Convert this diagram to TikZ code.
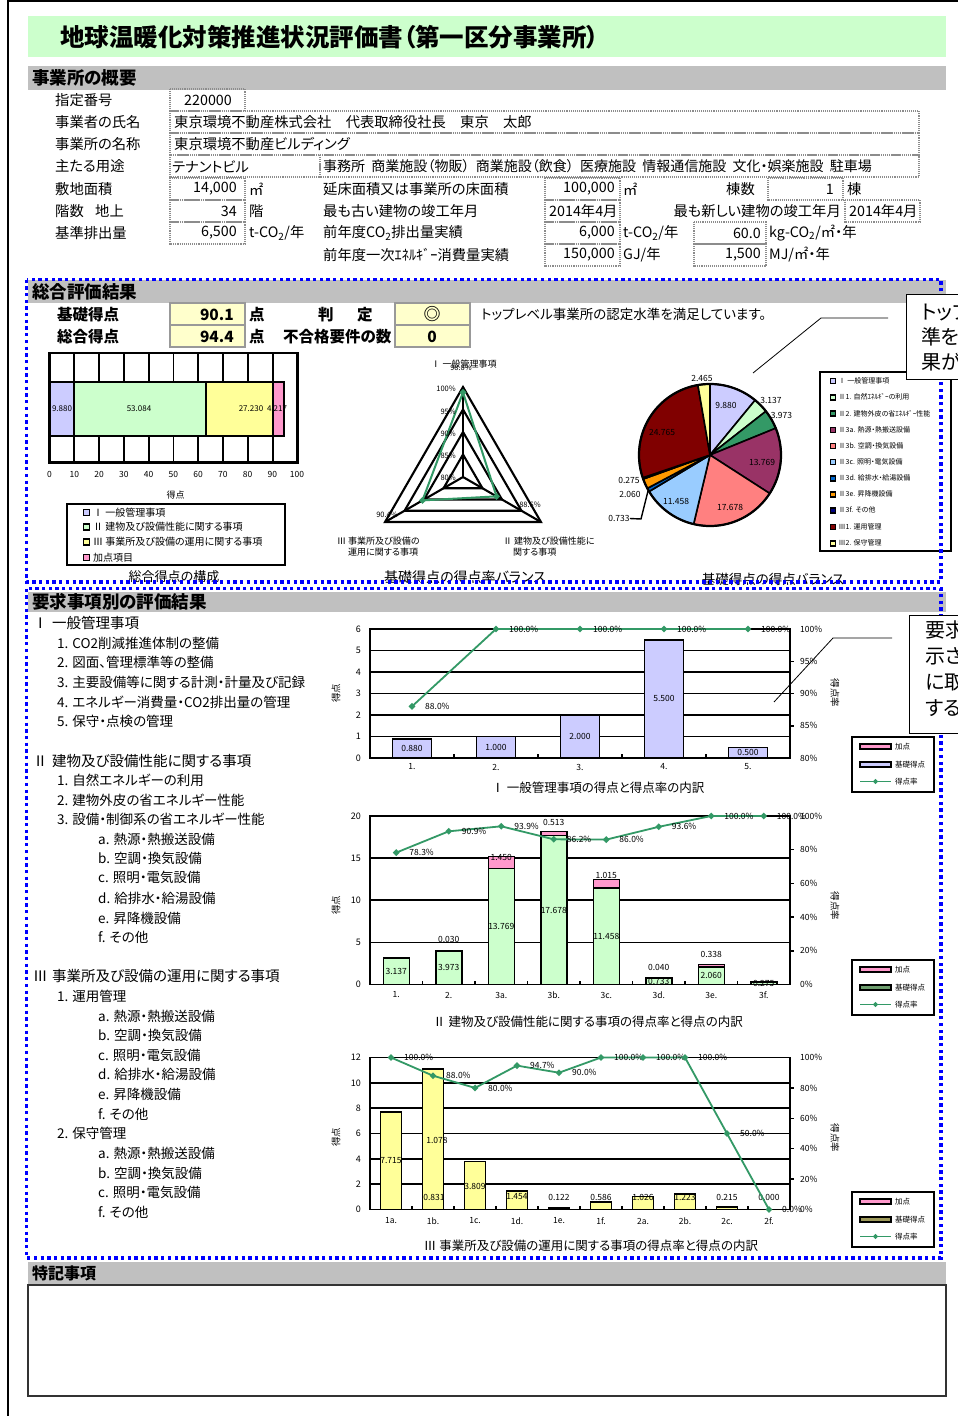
\documentclass[tikz,border=0pt]{standalone}
\usepackage{fontspec}
\setmainfont{Noto Sans CJK JP}[RawFeature=+palt]
\usetikzlibrary{shapes.geometric}
\newcommand{\fsz}[1]{\fontsize{#1}{#1}\selectfont}
\newcommand{\hsp}{\hspace{0.45em}}
\definecolor{lav}{HTML}{CCCCFF}
\definecolor{lgreen}{HTML}{CCFFCC}
\definecolor{lyel}{HTML}{FFFF99}
\definecolor{lpink}{HTML}{FF99CC}
\definecolor{sgreen}{HTML}{339966}
\definecolor{plum}{HTML}{993366}
\definecolor{salmon}{HTML}{FF8080}
\definecolor{lblue}{HTML}{99CCFF}
\definecolor{dblue}{HTML}{0066CC}
\definecolor{orng}{HTML}{FF9900}
\definecolor{navytwo}{HTML}{000080}
\definecolor{mar}{HTML}{800000}
\definecolor{grayband}{HTML}{C0C0C0}
\definecolor{scorey}{HTML}{FFFFCC}
\definecolor{dotblue}{HTML}{0000FF}
\definecolor{lgbase}{HTML}{6E9E6E}
\definecolor{ylbase}{HTML}{9E9A5A}
\tikzset{
 lbl/.style={inner sep=0pt, anchor=west, font=\fsz{14.3}},
 lblr/.style={inner sep=0pt, anchor=east, font=\fsz{14.3}},
 lblc/.style={inner sep=0pt, font=\fsz{14.3}},
 hdr/.style={inner sep=0pt, anchor=west, font=\fsz{17.5}\bfseries},
 cell/.style={draw=black!45, line width=1.1pt, densely dotted},
 scorebox/.style={fill=scorey, draw=black!40, line width=1.5pt},
 sc/.style={inner sep=0pt, font=\fsz{15.5}\bfseries},
 frm/.style={line width=1.9pt},
 gridl/.style={line width=1.6pt},
 barb/.style={line width=1.5pt, draw=black},
 smalllbl/.style={inner sep=0pt, font=\fsz{8.5}},
 dlbl/.style={inner sep=0pt, font=\fsz{8.5}, anchor=west},
 rate/.style={draw=sgreen, line width=1.8pt},
 diam/.style={diamond, fill=sgreen, inner sep=0pt, minimum size=7pt},
 bluedot/.style={draw=dotblue, line width=3.3pt, dash pattern=on 3.3pt off 3.4pt},
 cobox/.style={draw=black, line width=0.9pt, fill=white},
 cotext/.style={inner sep=0pt, anchor=west, font=\fsz{20}},
 lead/.style={draw=black, line width=0.8pt},
 listh/.style={inner sep=0pt, anchor=west, font=\fsz{14.5}},
 lists/.style={inner sep=0pt, anchor=west, font=\fsz{13.5}},
 ctitle/.style={inner sep=0pt, font=\fsz{12.5}},
 pleg/.style={inner sep=0pt, anchor=west, font=\fsz{7}},
}
\begin{document}
\begin{tikzpicture}[x=1pt,y=-1pt]
\useasboundingbox (0,0) rectangle (958,1416);
\fill[white] (0,0) rectangle (958,1416);
% page borders
\draw[line width=2pt] (8,0) -- (8,1416);
\draw[line width=2pt] (8,1) -- (958,1);
% title
\fill[lgreen] (28,16) rectangle (946,57);
\node[inner sep=0pt, anchor=west, font=\fsz{24.5}\bfseries] (title) at (60,37) {地球温暖化対策推進状況評価書（第一区分事業所）};
% ===== overview =====
\fill[grayband] (28,66) rectangle (946,90);
\node[hdr] (h1) at (32,78) {事業所の概要};
\node[lbl] (o1) at (55,100.5) {指定番号};
\node[lbl] (o2) at (55,122.5) {事業者の氏名};
\node[lbl] (o3) at (55,144.5) {事業所の名称};
\node[lbl] (o4) at (55,166.5) {主たる用途};
\node[lbl] (o5) at (55,189) {敷地面積};
\node[lbl] (o6) at (55,211) {階数};
\node[lbl] (o6b) at (95,211) {地上};
\node[lbl] (o7) at (55,233) {基準排出量};
\draw[cell] (170,89) rectangle (245,111);
\node[lblc] (v1) at (208,100.5) {220000};
\draw[cell] (170,111) rectangle (919,133);
\node[lbl] (v2) at (174,122.5) {東京環境不動産株式会社　代表取締役社長　東京　太郎};
\draw[cell] (170,133) rectangle (919,155);
\node[lbl] (v3) at (174,144.5) {東京環境不動産ビルディング};
\draw[cell] (170,155) rectangle (320,177);
\node[lbl] (v4) at (172,166.5) {テナントビル};
\draw[cell] (320,155) rectangle (919,177);
\node[lbl, font=\fsz{14}] (v4b) at (323,166.5) {事務所\hsp 商業施設（物販）\hsp 商業施設（飲食）\hsp 医療施設\hsp 情報通信施設\hsp 文化・娯楽施設\hsp 駐車場};
\draw[cell] (170,178) rectangle (245,200);
\node[lblr] (v5) at (237,189) {14,000};
\node[lbl] (u5) at (249,189) {㎡};
\node[lbl] (t5) at (323,189) {延床面積又は事業所の床面積};
\draw[cell] (545,178) rectangle (620,200);
\node[lblr] (v5b) at (615,189) {100,000};
\node[lbl] (u5b) at (623,189) {㎡};
\node[lbl] (t5b) at (726,189) {棟数};
\draw[cell] (768,178) rectangle (843,200);
\node[lblr] (v5c) at (834,189) {1};
\node[lbl] (u5c) at (847,189) {棟};
\draw[cell] (170,200) rectangle (245,222);
\node[lblr] (v6) at (237,211) {34};
\node[lbl] (u6) at (249,211) {階};
\node[lbl] (t6) at (323,211) {最も古い建物の竣工年月};
\draw[cell] (545,200) rectangle (620,222);
\node[lbl] (v6b) at (549,211) {2014年4月};
\node[lblr] (t6b) at (841,211) {最も新しい建物の竣工年月};
\draw[cell] (845,200) rectangle (920,222);
\node[lbl] (v6c) at (849,211) {2014年4月};
\draw[cell] (170,222) rectangle (245,244);
\node[lblr] (v7) at (237,233) {6,500};
\node[lbl] (u7) at (249,233) {t-CO\textsubscript{2}/年};
\node[lbl] (t7) at (323,233) {前年度CO\textsubscript{2}排出量実績};
\draw[cell] (545,222) rectangle (620,244);
\node[lblr] (v7b) at (615,233) {6,000};
\node[lbl] (u7b) at (623,233) {t-CO\textsubscript{2}/年};
\draw[cell] (694,222) rectangle (766,244);
\node[lblr] (v7c) at (761,233) {60.0};
\node[lbl] (u7c) at (769,233) {kg-CO\textsubscript{2}/㎡・年};
\node[lbl] (t8) at (323,255) {前年度一次ｴﾈﾙｷﾞｰ消費量実績};
\draw[cell] (545,244) rectangle (620,266);
\node[lblr] (v8) at (615,255) {150,000};
\node[lbl] (u8) at (623,255) {GJ/年};
\draw[cell] (694,244) rectangle (766,266);
\node[lblr] (v8b) at (761,255) {1,500};
\node[lbl] (u8b) at (769,255) {MJ/㎡・年};
% ===== overall result =====
\fill[grayband] (28,280) rectangle (946,303);
\node[hdr] (h2) at (32,292) {総合評価結果};
\node[sc, anchor=west] (s1) at (57,314.5) {基礎得点};
\draw[scorebox] (170,303) rectangle (245,325);
\node[sc, anchor=east] (s1v) at (234,314.5) {90.1};
\node[sc, anchor=west] (s1u) at (249,314.5) {点};
\node[sc, anchor=west] (s3a) at (318,314.5) {判};
\node[sc, anchor=west] (s3b) at (357,314.5) {定};
\draw[scorebox] (395,303) rectangle (470,325);
\node[sc, font=\fsz{17}\bfseries] (s3v) at (432,314.5) {◎};
\node[inner sep=0pt, anchor=west, font=\fsz{13.5}] (s5) at (481,314) {トップレベル事業所の認定水準を満足しています。};
\node[sc, anchor=west] (s2) at (57,336.5) {総合得点};
\draw[scorebox] (170,325) rectangle (245,347);
\node[sc, anchor=east] (s2v) at (234,336.5) {94.4};
\node[sc, anchor=west] (s2u) at (249,336.5) {点};
\node[sc, anchor=west] (s4) at (283,336.5) {不合格要件の数};
\draw[scorebox] (395,325) rectangle (470,347);
\node[sc] (s4v) at (432,336.5) {0};
% stacked bar
\foreach \k in {1,...,9} \draw[line width=1.8pt] ({49.5+24.8*\k},353) -- ({49.5+24.8*\k},462.5);
\filldraw[barb, line width=1.8pt, fill=lav] (49.5,382) rectangle (74,436);
\filldraw[barb, line width=1.8pt, fill=lgreen] (74,382) rectangle (205.6,436);
\filldraw[barb, line width=1.8pt, fill=lyel] (205.6,382) rectangle (273.2,436);
\filldraw[barb, line width=1.8pt, fill=lpink] (273.2,382) rectangle (283.6,436);
\draw[frm, line width=2.2pt] (49.5,353) rectangle (297.5,462.5);
\node[smalllbl, font=\fsz{8}] (sb1) at (62,409) {9.880};
\node[smalllbl, font=\fsz{8}] (sb2) at (139,409) {53.084};
\node[smalllbl, font=\fsz{8}] (sb3) at (251,409) {27.230};
\node[smalllbl, font=\fsz{8}] (sb4) at (277,409) {4.217};
\foreach \k [count=\i] in {0,10,...,100} \node[smalllbl] (sx\i) at ({49.5+2.475*\k},474) {\k};
\node[smalllbl, font=\fsz{9}] (sxl) at (175.5,495) {得点};
\draw[frm] (67,504) rectangle (285,565);
\foreach \y/\c/\t [count=\i] in {512.3/lav/Ⅰ 一般管理事項, 527/lgreen/Ⅱ 建物及び設備性能に関する事項, 542/lyel/Ⅲ 事業所及び設備の運用に関する事項, 557.7/lpink/加点項目}{
  \filldraw[fill=\c, draw=black, line width=1.5pt] (83.5,{\y-3}) rectangle (89.5,{\y+3});
  \node[inner sep=0pt, anchor=west, font=\fsz{10}] (sl\i) at (93,\y) {\t};
}
\node[inner sep=0pt, font=\fsz{13}] (st1) at (174,577) {総合得点の構成};
% radar
\begin{scope}[shift={(463,477)}, yscale=-1]
  \foreach \r in {22.5,45,67.5,90} \draw[line width=2.1pt, line join=miter] (90:\r) -- (210:\r) -- (330:\r) -- cycle;
  \foreach \a in {90,210,330} \draw[line width=2.1pt] (0,0) -- (\a:90);
  \draw[rate, line width=2pt] (90:84.6) -- (330:38.7) -- (210:46.8) -- cycle;
  \node[diam] (rp1) at (90:84.6) {};
  \node[diam] (rp2) at (330:38.7) {};
  \node[diam] (rp3) at (210:46.8) {};
\end{scope}
\foreach \y/\t [count=\i] in {389/100, 411.5/95, 434/90, 456/85, 478/80}
  \node[inner sep=0pt, anchor=east, font=\fsz{7.5}] (ra\i) at (456,\y) {\t\%};
\node[inner sep=0pt, font=\fsz{7.5}] (rd1) at (461,368) {98.8\%};
\node[inner sep=0pt, font=\fsz{9}] (rt1) at (464,364) {Ⅰ 一般管理事項};
\node[inner sep=0pt, font=\fsz{7.5}] (rd2) at (530,505) {88.6\%};
\node[inner sep=0pt, font=\fsz{7.5}] (rd3) at (387,515) {90.4\%};
\node[inner sep=0pt, anchor=west, font=\fsz{9}] (rt3a) at (337,541) {Ⅲ 事業所及び設備の};
\node[inner sep=0pt, anchor=west, font=\fsz{9}] (rt3b) at (348,552) {運用に関する事項};
\node[inner sep=0pt, anchor=west, font=\fsz{9}] (rt2a) at (503,541) {Ⅱ 建物及び設備性能に};
\node[inner sep=0pt, anchor=west, font=\fsz{9}] (rt2b) at (513,552) {関する事項};
\node[inner sep=0pt, font=\fsz{14}] (rtt) at (465,577) {基礎得点の得点率バランス};
% pie
\begin{scope}[shift={(710,455)}, yscale=-1]
  \foreach \a/\b/\c in {90/50.565/lav, 50.565/38.044/lgreen, 38.044/22.186/sgreen, 22.186/-32.772/plum, -32.772/-103.333/salmon, -103.333/-149.067/lblue, -149.067/-151.993/dblue, -151.993/-160.215/orng, -160.215/-161.313/navytwo, -161.313/-260.161/mar, -260.161/-270/lyel}
    \filldraw[fill=\c, draw=black, line width=1.6pt, line join=round] (0,0) -- (\a:71) arc[start angle=\a, end angle=\b, radius=71] -- cycle;
  \draw[line width=2.2pt] (0,0) circle (71);
\end{scope}
\foreach \x/\y/\t [count=\i] in {726/405/9.880, 771/400/3.137, 781.5/415/3.973, 762/462/13.769, 730/507.7/17.678, 676/501/11.458, 662/432.7/24.765, 702/378/2.465, 629/480/0.275, 630/494/2.060, 619/518.5/0.733}
  \node[smalllbl] (pl\i) at (\x,\y) {\t};
\coordinate (pk1) at (641,519);
\coordinate (pk2) at (648,491);
\draw[lead, line width=1.4pt] (pl11.east) -- (pk1) -- (pk2);
\draw[line width=2.2pt] (820,372) rectangle (951,551);
\foreach \y/\c/\t [count=\i] in {381/lav/Ⅰ 一般管理事項, 397.3/lgreen/Ⅱ1. 自然ｴﾈﾙｷﾞｰの利用, 413.3/sgreen/Ⅱ2. 建物外皮の省ｴﾈﾙｷﾞｰ性能, 430/plum/Ⅱ3a. 熱源・熱搬送設備, 446/salmon/Ⅱ3b. 空調・換気設備, 462/lblue/Ⅱ3c. 照明・電気設備, 478.3/dblue/Ⅱ3d. 給排水・給湯設備, 494.3/orng/Ⅱ3e. 昇降機設備, 510.3/navytwo/Ⅱ3f. その他, 527/mar/Ⅲ1. 運用管理, 543.3/lyel/Ⅲ2. 保守管理}{
  \filldraw[fill=\c, draw=black, line width=1.6pt] (830.5,{\y-2.5}) rectangle (835.5,{\y+2.5});
  \node[pleg] (pg\i) at (838.5,\y) {\t};
}
\node[inner sep=0pt, font=\fsz{13.5}] (ptt) at (773,579) {基礎得点の得点バランス};
% ===== section 2 =====
\fill[grayband] (28,592) rectangle (946,612);
\node[hdr] (h3) at (32,602) {要求事項別の評価結果};
\foreach \y/\t [count=\i] in {623.3/Ⅰ, 760.7/Ⅱ, 976/Ⅲ} \node[listh] (lr\i) at (33,\y) {\t};
\foreach \y/\t [count=\i] in {623.3/一般管理事項, 760.7/建物及び設備性能に関する事項, 976/事業所及び設備の運用に関する事項} \node[listh] (lh\i) at (52,\y) {\t};
\foreach \y/\t [count=\i] in {643.3/1. CO2削減推進体制の整備, 662.7/2. 図面、管理標準等の整備, 682.7/3. 主要設備等に関する計測・計量及び記録, 702.7/4. エネルギー消費量・CO2排出量の管理, 721/5. 保守・点検の管理, 780.7/1. 自然エネルギーの利用, 800/2. 建物外皮の省エネルギー性能, 819.3/3. 設備・制御系の省エネルギー性能, 996/1. 運用管理, 1133.3/2. 保守管理}
  \node[lists] (ls\i) at (57,\y) {\t};
\foreach \y/\t [count=\i] in {839.3/a. 熱源・熱搬送設備, 858.3/b. 空調・換気設備, 877.3/c. 照明・電気設備, 898/d. 給排水・給湯設備, 918/e. 昇降機設備, 937/f. その他, 1016/a. 熱源・熱搬送設備, 1035.7/b. 空調・換気設備, 1055/c. 照明・電気設備, 1074.3/d. 給排水・給湯設備, 1094.3/e. 昇降機設備, 1114/f. その他, 1153.3/a. 熱源・熱搬送設備, 1173.3/b. 空調・換気設備, 1192.7/c. 照明・電気設備, 1212.7/f. その他}
  \node[lists] (lt\i) at (98,\y) {\t};
% ---- chart 1 ----
\foreach \v in {1,...,5} \draw[gridl] (370,{758-21.5*\v}) -- (790,{758-21.5*\v});
\foreach \c/\t/\ly/\l [count=\i] in {412/739.08/748.5/0.880, 496/736.5/747.3/1.000, 580/715/736.5/2.000, 664/639.75/698.9/5.500, 748/747.25/752.6/0.500}{
  \filldraw[barb, fill=lav] ({\c-19.5},758) rectangle ({\c+19.5},\t);
  \node[smalllbl] (a1b\i) at (\c,\ly) {\l};
}
\draw[frm] (370,629) rectangle (790,758);
\foreach \x in {454,538,622,706} \draw[line width=1.5pt] (\x,758) -- (\x,754);
\foreach \y in {661.25,693.5,725.75} \draw[line width=1.5pt] (790,\y) -- (794,\y);
\draw[rate] (412,706.4) -- (496,629) -- (580,629) -- (664,629) -- (748,629);
\foreach \c/\y/\l [count=\i] in {412/706.4/88.0, 496/629/100.0, 580/629/100.0, 664/629/100.0, 748/629/100.0}{
  \node[diam] (a1p\i) at (\c,\y) {};
  \node[dlbl] (a1d\i) at ({\c+13},\y) {\l\%};
}
\foreach \k in {0,...,6} \node[smalllbl, anchor=east, font=\fsz{9}] (a1y\k) at (361,{758-21.5*\k}) {\k};
\foreach \k/\p in {0/80,1/85,2/90,3/95,4/100} \node[smalllbl, anchor=west] (a1r\k) at (800,{758-32.25*\k}) {\p\%};
\foreach \c/\n [count=\i] in {412/1., 496/2., 580/3., 664/4., 748/5.} \node[smalllbl] (a1x\i) at (\c,767) {\n};
\node[smalllbl, font=\fsz{9.5}, rotate=90] (a1yl) at (336,693) {得点};
\node[smalllbl, font=\fsz{9.5}, rotate=-90] (a1rl) at (835,693) {得点率};
\node[ctitle] (a1t) at (598,788) {Ⅰ 一般管理事項の得点と得点率の内訳};
% ---- chart 2 ----
\foreach \v in {1,2,3} \draw[gridl] (370,{984.5-42.125*\v}) -- (790,{984.5-42.125*\v});
\foreach \c/\t/\bt in {396.25/958.07/958.07, 448.75/951.03/950.78, 501.25/868.5/856.28, 553.75/835.56/831.24, 606.25/887.97/879.42, 658.75/978.32/977.99, 711.25/967.14/964.29, 763.75/982.18/982.18}{
  \filldraw[barb, fill=lgreen] ({\c-13},984.5) rectangle ({\c+13},\t);
  \filldraw[barb, fill=lpink] ({\c-13},\t) rectangle ({\c+13},\bt);
}
\foreach \c/\ly/\l [count=\i] in {396.25/971.3/3.137, 448.75/967.8/3.973, 501.25/926.5/13.769, 553.75/910/17.678, 606.25/936.2/11.458, 658.75/981.4/0.733, 711.25/975.8/2.060, 763.75/983.3/0.275}
  \node[smalllbl] (a2b\i) at (\c,\ly) {\l};
\foreach \c/\ly/\l [count=\i] in {448.75/939/0.030, 501.25/857/1.450, 553.75/822/0.513, 606.25/875/1.015, 658.75/967/0.040, 711.25/954/0.338}
  \node[smalllbl] (a2k\i) at (\c,\ly) {\l};
\draw[frm] (370,816) rectangle (790,984.5);
\foreach \x in {422.5,475,527.5,580,632.5,685,737.5} \draw[line width=1.5pt] (\x,984.5) -- (\x,980.5);
\foreach \y in {950.8,917.1,883.4,849.7} \draw[line width=1.5pt] (790,\y) -- (794,\y);
\draw[rate] (396.25,852.6) -- (448.75,831.3) -- (501.25,826.3) -- (553.75,839.3) -- (606.25,839.6) -- (658.75,826.8) -- (711.25,816) -- (763.75,816);
\foreach \c/\y/\l [count=\i] in {396.25/852.6/78.3, 448.75/831.3/90.9, 501.25/826.3/93.9, 553.75/839.3/86.2, 606.25/839.6/86.0, 658.75/826.8/93.6, 711.25/816/100.0, 763.75/816/100.0}{
  \node[diam] (a2p\i) at (\c,\y) {};
  \node[dlbl] (a2d\i) at ({\c+13},\y) {\l\%};
}
\foreach \k [count=\i] in {0,5,10,15,20} \node[smalllbl, anchor=east, font=\fsz{9}] (a2y\i) at (361,{984.5-42.125*(\i-1)}) {\k};
\foreach \p [count=\i] in {0,20,40,60,80,100} \node[smalllbl, anchor=west] (a2r\i) at (800,{984.5-33.7*(\i-1)}) {\p\%};
\foreach \c/\n [count=\i] in {396.25/1., 448.75/2., 501.25/3a., 553.75/3b., 606.25/3c., 658.75/3d., 711.25/3e., 763.75/3f.} \node[smalllbl] (a2x\i) at (\c,995) {\n};
\node[smalllbl, font=\fsz{9.5}, rotate=90] (a2yl) at (336,905) {得点};
\node[smalllbl, font=\fsz{9.5}, rotate=-90] (a2rl) at (835,906) {得点率};
\node[ctitle] (a2t) at (588,1022) {Ⅱ 建物及び設備性能に関する事項の得点率と得点の内訳};
% ---- chart 3 ----
\foreach \v in {1,...,5} \draw[gridl] (370,{1209.5-25.333*\v}) -- (790,{1209.5-25.333*\v});
\foreach \c/\t in {391/1111.78, 433/1069.2, 475/1161.25, 517/1191.08, 559/1207.95, 601/1202.08, 643/1196.5, 685/1194.0, 727/1206.8, 769/1209.5}
  \filldraw[barb, fill=lyel] ({\c-10.5},1209.5) rectangle ({\c+10.5},\t);
\foreach \c/\ly/\l [count=\i] in {391/1160.6/7.715, 437/1140/1.078, 434/1197/0.831, 475/1186/3.809, 517/1197/1.454, 559/1197/0.122, 601/1197/0.586, 643/1197/1.026, 685/1197/1.223, 727/1197/0.215, 769/1197/0.000}
  \node[smalllbl] (a3b\i) at (\c,\ly) {\l};
\draw[frm] (370,1057.5) rectangle (790,1209.5);
\foreach \x in {412,454,496,538,580,622,664,706,748} \draw[line width=1.5pt] (\x,1209.5) -- (\x,1205.5);
\foreach \y in {1179.1,1148.7,1118.3,1087.9} \draw[line width=1.5pt] (790,\y) -- (794,\y);
\draw[rate] (391,1057.5) -- (433,1075.7) -- (475,1087.9) -- (517,1065.6) -- (559,1072.7) -- (601,1057.5) -- (643,1057.5) -- (685,1057.5) -- (727,1133.5) -- (769,1209.5);
\foreach \c/\y/\l [count=\i] in {391/1057.5/100.0, 433/1075.7/88.0, 475/1087.9/80.0, 517/1065.6/94.7, 559/1072.7/90.0, 601/1057.5/100.0, 643/1057.5/100.0, 685/1057.5/100.0, 727/1133.5/50.0, 769/1209.5/0.0}{
  \node[diam] (a3p\i) at (\c,\y) {};
  \node[dlbl] (a3d\i) at ({\c+13},\y) {\l\%};
}
\foreach \k [count=\i] in {0,2,4,6,8,10,12} \node[smalllbl, anchor=east, font=\fsz{9}] (a3y\i) at (361,{1209.5-25.333*(\i-1)}) {\k};
\foreach \p [count=\i] in {0,20,40,60,80,100} \node[smalllbl, anchor=west] (a3r\i) at (800,{1209.5-30.4*(\i-1)}) {\p\%};
\foreach \c/\n [count=\i] in {391/1a., 433/1b., 475/1c., 517/1d., 559/1e., 601/1f., 643/2a., 685/2b., 727/2c., 769/2f.} \node[smalllbl] (a3x\i) at (\c,1221) {\n};
\node[smalllbl, font=\fsz{9.5}, rotate=90] (a3yl) at (336,1137) {得点};
\node[smalllbl, font=\fsz{9.5}, rotate=-90] (a3rl) at (835,1138) {得点率};
\node[ctitle] (a3t) at (591,1246) {Ⅲ 事業所及び設備の運用に関する事項の得点率と得点の内訳};
% ---- chart legends ----
\foreach \ly/\bc [count=\i] in {737/lav, 960/lgbase, 1192/ylbase}{
  \draw[frm] (852,\ly) rectangle (934,{\ly+55});
  \filldraw[fill=lpink, draw=black, line width=1.3pt] (860,{\ly+7}) rectangle (891,{\ly+12});
  \node[inner sep=0pt, anchor=west, font=\fsz{7.5}] (lga\i) at (895,{\ly+9.5}) {加点};
  \filldraw[fill=\bc, draw=black, line width=1.3pt] (860,{\ly+25}) rectangle (891,{\ly+30});
  \node[inner sep=0pt, anchor=west, font=\fsz{7.5}] (lgb\i) at (895,{\ly+27.5}) {基礎得点};
  \draw[rate, line width=1.6pt] (860,{\ly+44.5}) -- (891,{\ly+44.5});
  \node[diam, minimum size=5.5pt] (lgd\i) at (875.5,{\ly+44.5}) {};
  \node[inner sep=0pt, anchor=west, font=\fsz{7.5}] (lgc\i) at (895,{\ly+44.5}) {得点率};
}
% ===== special notes =====
\fill[grayband] (28,1262) rectangle (946,1284);
\node[hdr, font=\fsz{16}\bfseries] (h4) at (32,1273) {特記事項};
\draw[draw=black!80, line width=1.5pt] (28,1285) rectangle (946,1396);
% ===== blue dotted frames =====
\draw[bluedot] (26.7,279.5) rectangle (941,582);
\draw[bluedot] (26.7,588.5) rectangle (941,1258);
% ===== callouts =====
\draw[cobox] (906,294) rectangle (990,379);
\node[cotext] (co1a) at (921,312) {トップ};
\node[cotext] (co1b) at (921,337) {準を};
\node[cotext] (co1c) at (921,362) {果が};
\coordinate (k1a) at (888,318);
\coordinate (k1b) at (821,318);
\coordinate (k1c) at (753,373);
\draw[lead] (k1a) -- (k1b) -- (k1c);
\draw[cobox] (909,615) rectangle (990,733);
\node[cotext] (co2a) at (925,630) {要求};
\node[cotext] (co2b) at (925,656) {示さ};
\node[cotext] (co2c) at (925,682) {に取};
\node[cotext] (co2d) at (925,708) {する};
\coordinate (k2a) at (892,638);
\coordinate (k2b) at (833,638);
\coordinate (k2c) at (774,702);
\draw[lead] (k2a) -- (k2b) -- (k2c);
\end{tikzpicture}
\end{document}
